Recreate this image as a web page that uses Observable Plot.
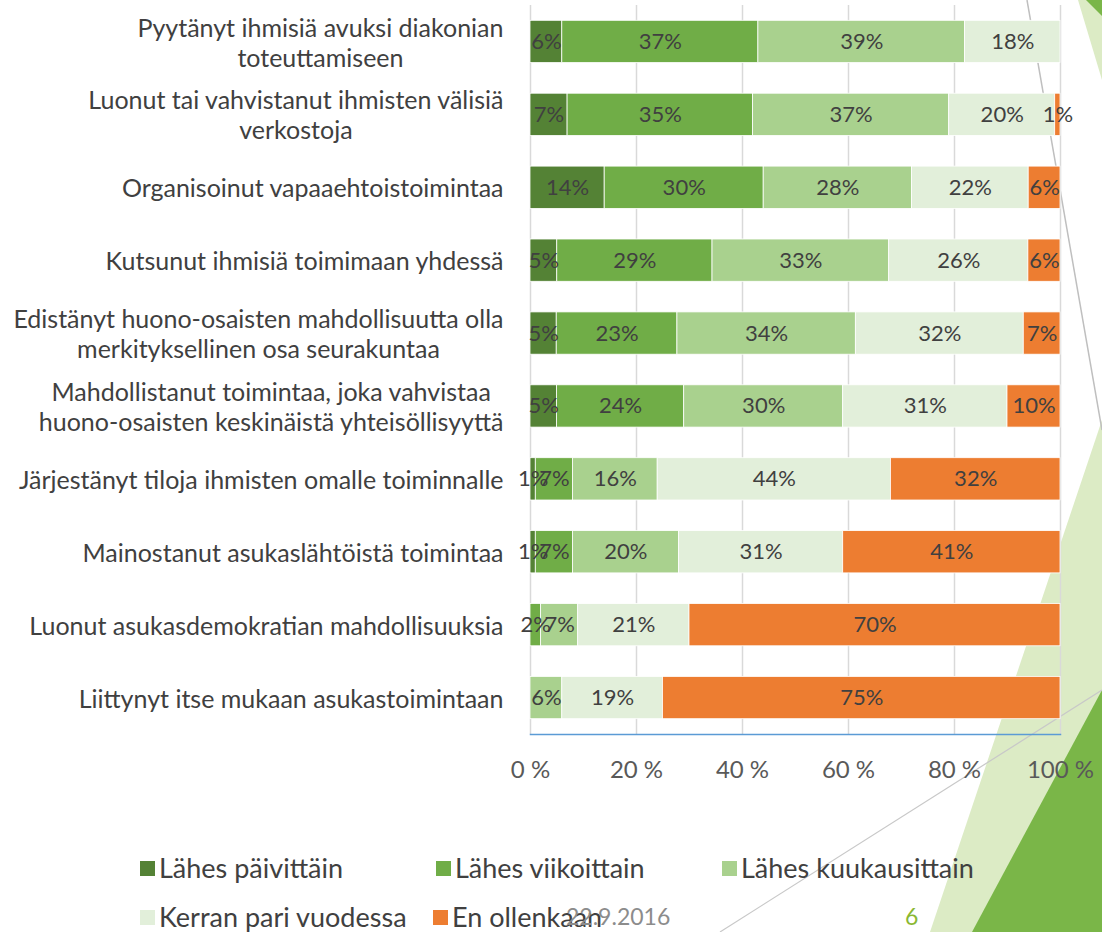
<!DOCTYPE html>
<html>
<head>
<meta charset="utf-8">
<script src="https://cdn.jsdelivr.net/npm/d3@7"></script>
<script src="https://cdn.jsdelivr.net/npm/@observablehq/plot@0.6"></script>
<style>
  html, body { margin: 0; padding: 0; background: #fff; }
  body { width: 1102px; height: 932px; position: relative; overflow: hidden; font-family: Lato, sans-serif; }
  #deco { position: absolute; left: 0; top: 0; }
  #chart { position: absolute; left: 0; top: 0; }
  .legtext { position: absolute; font-size: 27px; line-height: 1; color: #404040; white-space: nowrap; }
  .legsw { position: absolute; width: 15px; height: 15px; }
  .footer { position: absolute; font-size: 23px; line-height: 1; }
</style>
</head>
<body>
<svg id="deco" width="1102" height="932">
  <polygon points="1102,420 1102,932 930,932" fill="#dcebc5"/>
  <polygon points="1102,690 1102,932 972,932" fill="#7ab648"/>
  <polygon points="1078,0 1102,0 1102,80" fill="#dcebc5"/>
  <polygon points="1086,0 1102,0 1102,16" fill="#7ab648"/>
  <line x1="1027" y1="0" x2="1102" y2="430" stroke="#bfbfbf" stroke-width="1.5"/>
  <line x1="1102" y1="690" x2="720" y2="932" stroke="#c8c8c8" stroke-width="1.2"/>
</svg>
<div id="chart"></div>
<div id="legend"></div>
<div class="footer" style="left:566px; top:905px; color:#8c8c8c;">22.9.2016</div>
<div class="footer" style="left:905px; top:905px; color:#8ab833;">6</div>
<script>
const categories = [
  "Pyytänyt ihmisiä avuksi diakonian\ntoteuttamiseen",
  "Luonut tai vahvistanut ihmisten välisiä\nverkostoja",
  "Organisoinut vapaaehtoistoimintaa",
  "Kutsunut ihmisiä toimimaan yhdessä",
  "Edistänyt huono-osaisten mahdollisuutta olla\nmerkityksellinen osa seurakuntaa",
  "Mahdollistanut toimintaa, joka vahvistaa\nhuono-osaisten keskinäistä yhteisöllisyyttä",
  "Järjestänyt tiloja ihmisten omalle toiminnalle",
  "Mainostanut asukaslähtöistä toimintaa",
  "Luonut asukasdemokratian mahdollisuuksia",
  "Liittynyt itse mukaan asukastoimintaan"
];
const seriesNames = ["Lähes päivittäin", "Lähes viikoittain", "Lähes kuukausittain", "Kerran pari vuodessa", "En ollenkaan"];
const seriesColors = ["#548235", "#70ad47", "#a9d18e", "#e2efda", "#ed7d31"];

const lahesPaivittain     = [6, 7, 14, 5, 5, 5, 1, 1, 0, 0];
const lahesViikoittain    = [37, 35, 30, 29, 23, 24, 7, 7, 2, 0];
const lahesKuukausittain  = [39, 37, 28, 33, 34, 30, 16, 20, 7, 6];
const kerranPariVuodessa  = [18, 20, 22, 26, 32, 31, 44, 31, 21, 19];
const enOllenkaan         = [0, 1, 6, 6, 7, 10, 32, 41, 70, 75];
const xTicks = [0, 0.2, 0.4, 0.6, 0.8, 1];

const seriesValues = [lahesPaivittain, lahesViikoittain, lahesKuukausittain, kerranPariVuodessa, enOllenkaan];
const data = [];
categories.forEach((c, i) => {
  seriesNames.forEach((s, j) => {
    data.push({cat: c, series: s, value: seriesValues[j][i]});
  });
});

const stackOpts = {x: "value", y: "cat", z: "series", order: seriesNames, offset: "normalize"};

const plot = Plot.plot({
  width: 1102,
  height: 795,
  marginLeft: 530,
  marginRight: 42,
  marginTop: 5,
  marginBottom: 61,
  style: {fontFamily: "Lato, sans-serif", background: "transparent"},
  x: {domain: [0, 1], ticks: xTicks, label: null},
  y: {domain: categories, label: null, paddingInner: 0.42, paddingOuter: 0.21, round: false},
  color: {domain: seriesNames, range: seriesColors},
  marks: [
    Plot.gridX(xTicks, {stroke: "#d9d9d9", strokeOpacity: 1, strokeWidth: 1.5}),
    Plot.barX(data, Plot.stackX({...stackOpts, fill: "series", stroke: "white", strokeWidth: 0.8})),
    Plot.text(data, Plot.stackX({...stackOpts, text: d => d.value ? d.value + "%" : "", fill: "#404040", fontSize: 22})),
    Plot.frame({anchor: "bottom", stroke: "#5b9bd5", strokeWidth: 1.5}),
    Plot.axisX(xTicks, {tickSize: 0, tickPadding: 26, fontSize: 24, fill: "#595959", tickFormat: d => Math.round(d * 100) + " %", label: null}),
    Plot.axisY({tickSize: 0, tickPadding: 27, fontSize: 25, fill: "#404040", lineHeight: 1.2, label: null})
  ]
});
document.getElementById("chart").appendChild(plot);

// center multi-line category labels as a block (Excel-style wrapping)
plot.querySelectorAll("g[aria-label='y-axis tick label'] text").forEach(t => {
  const spans = t.querySelectorAll("tspan");
  if (spans.length > 1) {
    let maxW = 0;
    spans.forEach(s => { maxW = Math.max(maxW, s.getComputedTextLength()); });
    t.setAttribute("text-anchor", "middle");
    spans.forEach(s => s.setAttribute("x", -maxW / 2));
  }
});

// legend
const legendPos = [[140, 857], [436, 857], [722, 857], [140, 906], [433, 906]];
const lg = document.getElementById("legend");
seriesNames.forEach((s, i) => {
  const sw = document.createElement("div");
  sw.className = "legsw";
  sw.style.left = legendPos[i][0] + "px";
  sw.style.top = (legendPos[i][1] + 4) + "px";
  sw.style.background = seriesColors[i];
  lg.appendChild(sw);
  const t = document.createElement("div");
  t.className = "legtext";
  t.style.left = (legendPos[i][0] + 19) + "px";
  t.style.top = (legendPos[i][1] - 3) + "px";
  t.textContent = s;
  lg.appendChild(t);
});
</script>
</body>
</html>
